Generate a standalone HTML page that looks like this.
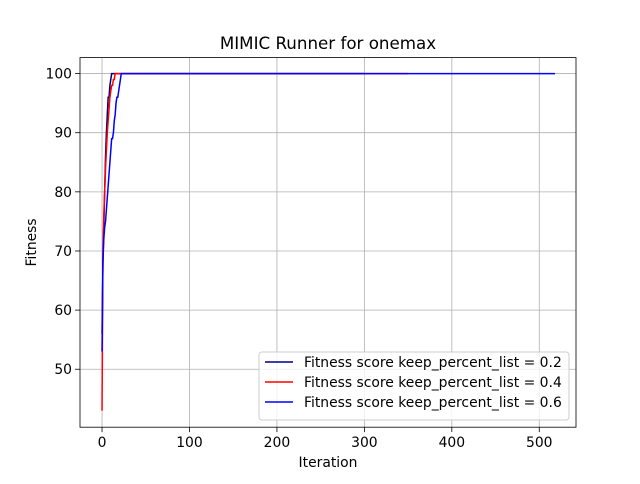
<!DOCTYPE html>
<html><head><meta charset="utf-8"><style>
body{margin:0;background:#fff;font-family:"DejaVu Sans","Liberation Sans",sans-serif}
</style></head><body>
<svg id="chart" width="640" height="480" xmlns="http://www.w3.org/2000/svg" font-family="DejaVu Sans, Liberation Sans, sans-serif">
<rect width="640" height="480" fill="#fff"/>
<g id="grid"></g><g id="series"></g><g id="axes"></g>
</svg>
<script>
const xTicks=[0,100,200,300,400,500];
const yTicks=[50,60,70,80,90,100];
const navyIters=[0,1,2,3,4,5,6,7,8,9,10,11,300];
const navyVals=[56,68,74,80,86,90,93,96,96,98,99,100,100];
const redIters=[0,1,2,3,4,5,6,7,8,9,10,11,12,13,14,15,350];
const redVals=[43,70,76,80,84,87,90,92,94,96,97,98,98,99,99,100,100];
const blueIters=[0,1,2,3,4,5,6,7,8,9,10,11,12,13,14,15,16,17,18,19,20,21,22,518];
const blueVals=[53,68,72,74,75,77,79,81,83,85,87,89,89,90,92,93,95,96,96,97,98,99,100,100];
const labels=["Fitness score keep_percent_list = 0.2","Fitness score keep_percent_list = 0.4","Fitness score keep_percent_list = 0.6"];
const L=80,R=576,T=57.6,B=427.2,xmin=-25.2,xmax=542,ymin=40.2,ymax=102.7;
const sx=v=>L+(v-xmin)/(xmax-xmin)*(R-L);
const sy=v=>B-(v-ymin)/(ymax-ymin)*(B-T);
const NS="http://www.w3.org/2000/svg";
function mk(tag,attrs,parent){const e=document.createElementNS(NS,tag);for(const k in attrs)e.setAttribute(k,attrs[k]);parent.appendChild(e);return e;}
const grid=document.getElementById('grid'),axes=document.getElementById('axes'),ser=document.getElementById('series');
xTicks.forEach(t=>{const x=sx(t);
 const g=mk('line',{x1:x,x2:x,y1:T,y2:B,stroke:'#b0b0b0','stroke-width':0.8},grid);
 
 mk('line',{x1:x,x2:x,y1:B,y2:B+4.9,stroke:'#000','stroke-width':0.8},axes);
 const tx=mk('text',{x:x,y:B+20,'text-anchor':'middle','font-size':13.9},axes);tx.textContent=t;
 });
yTicks.forEach(t=>{const y=sy(t);
 const g=mk('line',{x1:L,x2:R,y1:y,y2:y,stroke:'#b0b0b0','stroke-width':0.8},grid);
 
 mk('line',{x1:L-4.9,x2:L,y1:y,y2:y,stroke:'#000','stroke-width':0.8},axes);
 const tx=mk('text',{x:L-8,y:y+5,'text-anchor':'end','font-size':13.9},axes);tx.textContent=t;
 });
const sets=[[navyIters,navyVals,'#000080','series-keep-0.2'],[redIters,redVals,'#ff0000','series-keep-0.4'],[blueIters,blueVals,'#0000ff','series-keep-0.6']];
sets.forEach(([xs,ys,c,n])=>{const p=mk('polyline',{points:xs.map((x,i)=>sx(x)+','+sy(ys[i])).join(' '),fill:'none',stroke:c,'stroke-width':1.5},ser);
 });
const fr=mk('rect',{x:L,y:T,width:R-L,height:B-T,fill:'none',stroke:'#000','stroke-width':0.8},axes);

const ti=mk('text',{x:(L+R)/2,y:49,'text-anchor':'middle','font-size':16.7},axes);ti.textContent='MIMIC Runner for onemax';

const xl=mk('text',{x:(L+R)/2,y:467,'text-anchor':'middle','font-size':13.9},axes);xl.textContent='Iteration';

const yl=mk('text',{x:0,y:0,'text-anchor':'middle','font-size':13.9,transform:'translate(36,'+((T+B)/2)+') rotate(-90)'},axes);yl.textContent='Fitness';

const lg=mk('g',{},axes);

mk('rect',{x:259,y:352,width:310,height:68,rx:3,fill:'#fff','fill-opacity':0.8,stroke:'#ccc'},lg);
sets.forEach((s,i)=>{const y=362+i*20;
 mk('line',{x1:265,x2:293,y1:y,y2:y,stroke:s[2],'stroke-width':1.5},lg);
 const t=mk('text',{x:304,y:y+5,'font-size':13.9},lg);t.textContent=labels[i];
 });
</script>
</body></html>
